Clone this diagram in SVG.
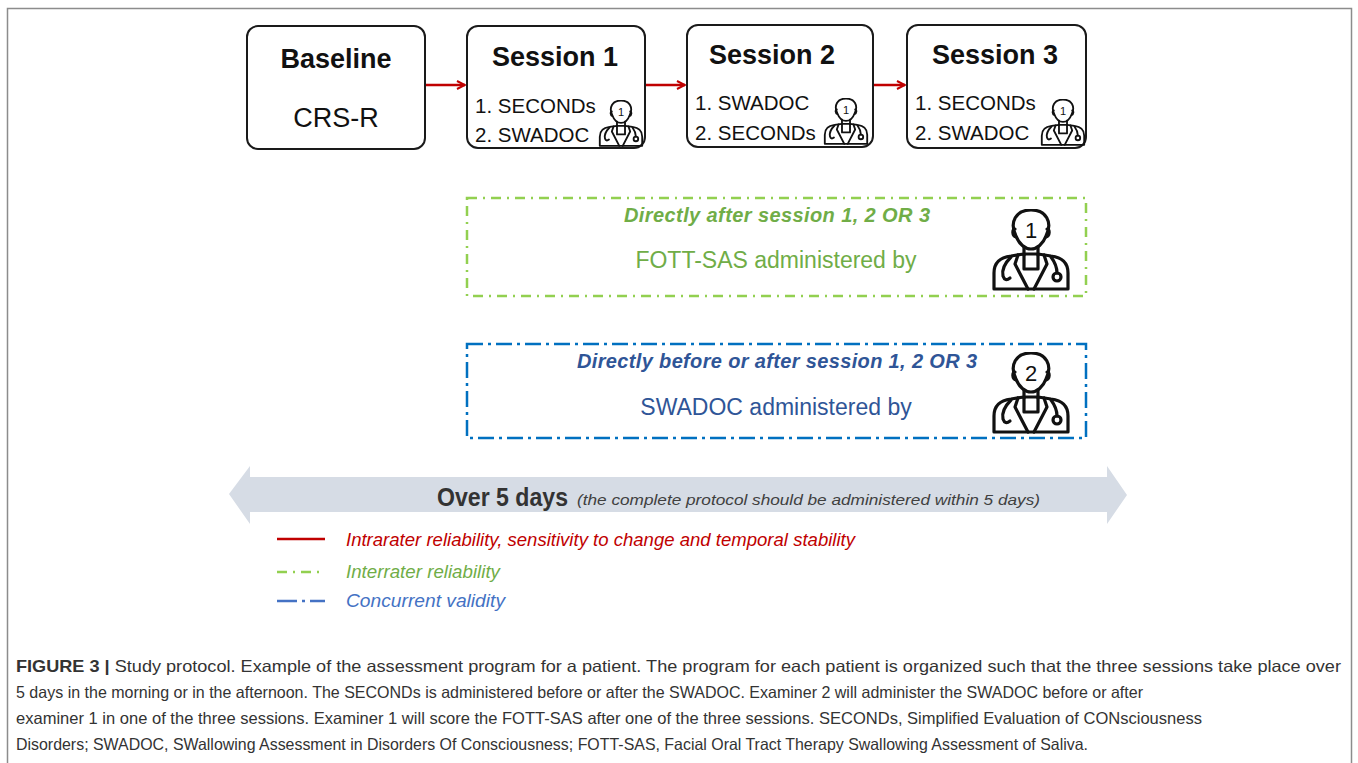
<svg xmlns="http://www.w3.org/2000/svg" xmlns:xlink="http://www.w3.org/1999/xlink" width="1358" height="763" viewBox="0 0 1358 763">
<style>
.box{fill:#fff;stroke:#1a1a1a;stroke-width:2}
.title{font-family:"Liberation Sans",Arial,sans-serif;font-weight:bold;font-size:27px;fill:#111;text-anchor:middle}
.sub{font-family:"Liberation Sans",Arial,sans-serif;font-size:27px;fill:#111;text-anchor:middle}
.item{font-family:"Liberation Sans",Arial,sans-serif;font-size:20.5px;fill:#111}
.num{font-family:"Liberation Sans",Arial,sans-serif;fill:#111;text-anchor:middle}
.flow{stroke:#c00000;stroke-width:2.5;fill:none;marker-end:url(#ah)}
.leg{font-family:"Liberation Sans",Arial,sans-serif;font-style:italic;font-size:17.5px}
.cap{font-family:"Liberation Sans",Arial,sans-serif;font-size:16.5px;fill:#333}
</style>
<defs>
<marker id="ah" viewBox="0 0 10 10" refX="9" refY="5" markerWidth="4" markerHeight="4" orient="auto" markerUnits="strokeWidth">
<path d="M1,1 L9,5 L1,9" fill="none" stroke="#c00000" stroke-width="2"/>
</marker>
<symbol id="doc" viewBox="0 0 80 82">
<g fill="none" stroke="#111" stroke-width="3.2" stroke-linejoin="round" stroke-linecap="round">
<path d="M25,27 C18,13 25,1 40,1 C55,1 62,13 55,27 C52,35 46,40 40,40 C34,40 28,35 25,27 Z"/>
<path d="M24,20 C21,20 21,27 25,28 M56,20 C59,20 59,27 55,28"/>
<path d="M33,38 V46 M47,38 V46"/>
<path d="M3,80 V64 Q3,49 20,47 L33,45 L47,45 L60,47 Q77,49 77,64 V80 Z"/>
<path d="M27,46 L24,55 L37,80 M53,46 L56,55 L43,80"/>
<path d="M33,46 L33,60 L47,60 L47,46"/>
<path d="M20,48 Q10,58 12,67 Q14,73 19,69"/>
<path d="M60,48 Q66,56 66,64"/>
<circle cx="66" cy="68" r="4"/>
</g>
</symbol>
</defs>

<rect x="7.5" y="8.5" width="1344" height="800" fill="none" stroke="#8c8c8c" stroke-width="1.5"/>

<g id="connectors">
<line class="flow" x1="426" y1="85" x2="465" y2="85"/>
<line class="flow" x1="646" y1="85" x2="685" y2="85"/>
<line class="flow" x1="874" y1="85" x2="905" y2="85"/>
</g>

<g id="baseline">
<rect class="box" x="247" y="26" width="178" height="123" rx="11"/>
<text class="title" x="336" y="68">Baseline</text>
<text class="sub" x="336" y="127">CRS-R</text>
</g>

<g id="session1">
<rect class="box" x="467" y="26" width="178" height="122" rx="11"/>
<text class="title" x="555" y="66">Session 1</text>
<text class="item" x="475" y="113">1. SECONDs</text>
<text class="item" x="475" y="142">2. SWADOC</text>
<use xlink:href="#doc" href="#doc" x="598" y="100" width="46" height="47"/>
<text class="num" x="621" y="116" font-size="11">1</text>
</g>

<g id="session2">
<rect class="box" x="687" y="25" width="186" height="122" rx="11"/>
<text class="title" x="772" y="64">Session 2</text>
<text class="item" x="695" y="110">1. SWADOC</text>
<text class="item" x="695" y="140">2. SECONDs</text>
<use xlink:href="#doc" href="#doc" x="823" y="98" width="46" height="47"/>
<text class="num" x="846" y="114" font-size="11">1</text>
</g>

<g id="session3">
<rect class="box" x="907" y="25" width="179" height="123" rx="11"/>
<text class="title" x="995" y="64">Session 3</text>
<text class="item" x="915" y="110">1. SECONDs</text>
<text class="item" x="915" y="140">2. SWADOC</text>
<use xlink:href="#doc" href="#doc" x="1040" y="99" width="46" height="47"/>
<text class="num" x="1063" y="115" font-size="11">1</text>
</g>

<g id="fott">
<rect x="467" y="198" width="619" height="98" fill="none" stroke="#92d050" stroke-width="2.5" stroke-dasharray="10 6 2 6"/>
<text x="777" y="222" font-family="Liberation Sans,Arial,sans-serif" font-weight="bold" font-style="italic" font-size="20" fill="#70ad47" text-anchor="middle" textLength="306">Directly after session 1, 2 OR 3</text>
<text x="776" y="268" font-family="Liberation Sans,Arial,sans-serif" font-size="23" fill="#70ad47" text-anchor="middle">FOTT-SAS administered by</text>
<use xlink:href="#doc" href="#doc" x="991" y="209" width="80" height="82"/>
<text class="num" x="1031" y="238" font-size="22">1</text>
</g>

<g id="swadoc">
<rect x="467" y="344" width="619" height="94" fill="none" stroke="#0070c0" stroke-width="2.5" stroke-dasharray="16 5 3 5"/>
<text x="777" y="368" font-family="Liberation Sans,Arial,sans-serif" font-weight="bold" font-style="italic" font-size="20" fill="#2f5597" text-anchor="middle" textLength="400">Directly before or after session 1, 2 OR 3</text>
<text x="776" y="415" font-family="Liberation Sans,Arial,sans-serif" font-size="23" fill="#2f5597" text-anchor="middle">SWADOC administered by</text>
<use xlink:href="#doc" href="#doc" x="991" y="352" width="80" height="82"/>
<text class="num" x="1031" y="381" font-size="22">2</text>
</g>

<g id="timeline">
<polygon points="229,494 250,466 250,477 1107,477 1107,466 1127,495 1107,524 1107,512 250,512 250,524" fill="#d6dce5"/>
<text x="437" y="506" font-family="Liberation Sans,Arial,sans-serif" font-weight="bold" font-size="26" fill="#333" textLength="131" lengthAdjust="spacingAndGlyphs">Over 5 days</text>
<text x="577" y="505" font-family="Liberation Sans,Arial,sans-serif" font-style="italic" font-size="14" fill="#404040" textLength="463" lengthAdjust="spacingAndGlyphs">(the complete protocol should be administered within 5 days)</text>
</g>

<g id="legend">
<line x1="277" y1="539" x2="325" y2="539" stroke="#c00000" stroke-width="2.5"/>
<text class="leg" x="346" y="546" fill="#c00000" textLength="509" lengthAdjust="spacingAndGlyphs">Intrarater reliability, sensitivity to change and temporal stability</text>
<line x1="277" y1="572" x2="325" y2="572" stroke="#92d050" stroke-width="2.5" stroke-dasharray="10 6 2 6"/>
<text class="leg" x="346" y="578" fill="#70ad47" textLength="154" lengthAdjust="spacingAndGlyphs">Interrater reliability</text>
<line x1="277" y1="601" x2="325" y2="601" stroke="#4472c4" stroke-width="2.5" stroke-dasharray="20 5 3 5"/>
<text class="leg" x="346" y="607" fill="#4472c4" textLength="159" lengthAdjust="spacingAndGlyphs">Concurrent validity</text>
</g>

<g id="caption">
<text class="cap" x="16" y="672" textLength="1325" lengthAdjust="spacingAndGlyphs"><tspan font-weight="bold">FIGURE 3 | </tspan>Study protocol. Example of the assessment program for a patient. The program for each patient is organized such that the three sessions take place over</text>
<text class="cap" x="16" y="698" textLength="1127" lengthAdjust="spacingAndGlyphs">5 days in the morning or in the afternoon. The SECONDs is administered before or after the SWADOC. Examiner 2 will administer the SWADOC before or after</text>
<text class="cap" x="16" y="724" textLength="1186" lengthAdjust="spacingAndGlyphs">examiner 1 in one of the three sessions. Examiner 1 will score the FOTT-SAS after one of the three sessions. SECONDs, Simplified Evaluation of CONsciousness</text>
<text class="cap" x="16" y="750" textLength="1072" lengthAdjust="spacingAndGlyphs">Disorders; SWADOC, SWallowing Assessment in Disorders Of Consciousness; FOTT-SAS, Facial Oral Tract Therapy Swallowing Assessment of Saliva.</text>
</g>
</svg>
